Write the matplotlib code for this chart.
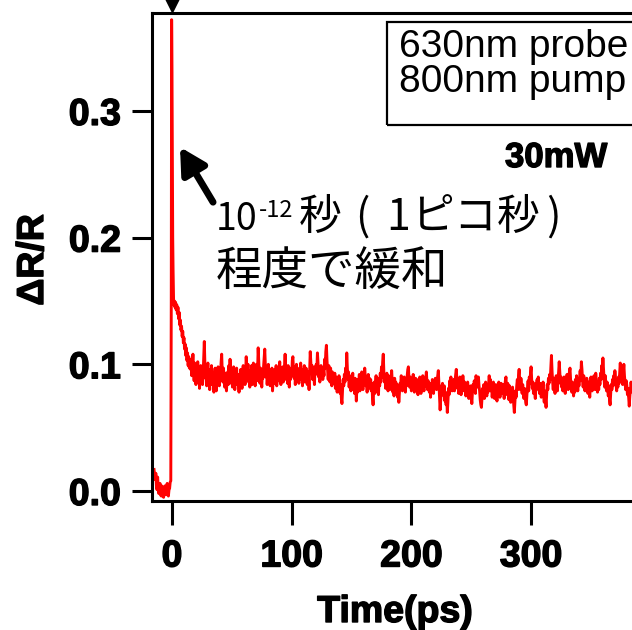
import matplotlib
matplotlib.use('Agg')
import matplotlib.pyplot as plt
import matplotlib.patheffects as pe
from matplotlib.ticker import FormatStrFormatter
from matplotlib.patches import Rectangle
import numpy as np

# ΔR/R 读数, 单位 1e-3

# 时间零点前的基线 (0.5 ps)
pre_t = [-15.0, -14.5, -14.0, -13.5, -13.0, -12.5, -12.0, -11.5, -11.0, -10.5,
         -10.0, -9.5, -9.0, -8.5, -8.0, -7.5, -7.0, -6.5, -6.0, -5.5,
         -5.0, -4.5, -4.0, -3.5, -3.0, -2.5, -2.0, -1.5, -1.0]
pre_milli = [17, 12, 9, 14, 4, 1, 11, 3, -2, 2,
             6, -3, -4, 4, 3, -4, -5, 1, 4, -2,
             -3, 3, 6, -2, -4, 1, 2, 7, 8]

# 峰值与快速衰减
peak_t = [-0.6, -0.3, 0.0, 0.3, 0.6, 0.9, 1.3,
          1.5, 2.0, 2.5, 3.0, 3.5, 4.0, 4.5, 5.0, 5.5, 6.0, 6.5, 7.0, 7.5, 8.0, 8.5,
          9.0, 9.5, 10.0, 10.5, 11.0, 11.5, 12.0, 12.5, 13.0, 13.5, 14.0, 14.5, 15.0, 15.5]
peak_milli = [150, 372, 330, 270, 200, 175, 152,
              147, 150, 145, 149, 143, 147, 140, 145, 136, 141, 131, 135, 127, 130, 122,
              126, 117, 121, 112, 116, 107, 113, 103, 109, 99, 106, 97, 103, 96]

# 16 ps 之后, 每 0.5 ps 一个点 (每行 10 ps)
tail_start = 16.0
tail_step = 0.5
tail_milli = [
    104, 91, 99, 108, 95, 87, 101, 93, 84, 97, 90, 102, 86, 95, 81, 93, 99, 88, 96, 84,
    92, 105, 118, 100, 89, 97, 83, 94, 101, 86, 91, 80, 96, 89, 99, 84, 93, 87, 78, 90,
    97, 85, 79, 92, 86, 98, 89, 83, 95, 88, 101, 108, 94, 86, 97, 90, 82, 93, 85, 79,
    88, 94, 84, 99, 91, 104, 93, 85, 96, 82, 91, 98, 87, 80, 95, 89, 97, 84, 92, 86,
    78, 90, 83, 96, 87, 81, 94, 99, 88, 95, 84, 92, 106, 97, 89, 100, 86, 93, 82, 95,
    88, 99, 84, 94, 101, 89, 96, 83, 92, 100, 87, 95, 113, 102, 91, 85, 97, 90, 82, 94,
    89, 98, 105, 112, 99, 90, 96, 84, 92, 100, 88, 95, 83, 91, 86, 97, 79, 88, 93, 85,
    96, 88, 99, 83, 91, 97, 87, 94, 102, 89, 84, 95, 90, 98, 86, 92, 99, 108, 96, 88,
    93, 85, 99, 90, 82, 94, 88, 97, 91, 103, 106, 95, 89, 98, 84, 93, 100, 87, 95, 90,
    85, 97, 92, 101, 88, 95, 83, 96, 90, 99, 86, 93, 97, 89, 84, 94, 91, 80, 95, 110,
    102, 93, 99, 88, 96, 91, 84, 98, 92, 100, 95, 109, 101, 90, 97, 86, 94, 99, 89, 96,
    88, 95, 91, 104, 97, 110, 115, 103, 95, 88, 99, 92, 86, 97, 90, 83, 94, 88, 92, 85,
    93, 81, 90, 84, 78, 88, 82, 91, 86, 77, 84, 73, 69, 80, 88, 83, 92, 86, 97, 90,
    109, 97, 88, 94, 82, 91, 86, 79, 90, 84, 93, 80, 87, 77, 89, 83, 71, 82, 78, 88,
    85, 92, 79, 87, 83, 94, 88, 80, 91, 86, 97, 90, 83, 88, 78, 86, 92, 81, 89, 84,
    88, 79, 85, 74, 68, 80, 86, 77, 84, 91, 79, 87, 82, 76, 89, 83, 93, 86, 98, 90,
    102, 108, 94, 86, 90, 81, 88, 93, 84, 79, 91, 85, 80, 89, 83, 95, 87, 78, 84, 75,
    89, 82, 86, 78, 84, 74, 80, 70, 77, 85, 83, 91, 86, 79, 88, 82, 90, 84, 78, 87,
    83, 91, 96, 98, 88, 82, 90, 85, 79, 87, 81, 92, 86, 78, 84, 89, 80, 88, 83, 76,
    86, 80, 90, 84, 77, 87, 82, 91, 85, 79, 88, 83, 89, 94, 86, 80, 87, 83, 78, 85,
    74, 84, 80, 88, 83, 77, 86, 81, 89, 84, 80, 87, 91, 95, 85, 75, 64, 72, 83, 78,
    85, 79, 75, 83, 71, 78, 68, 74, 62, 70, 81, 76, 87, 82, 90, 84, 79, 86, 81, 88,
    79, 87, 92, 96, 88, 81, 86, 77, 84, 90, 82, 76, 88, 83, 91, 85, 79, 86, 81, 75,
    84, 78, 86, 80, 73, 81, 76, 83, 74, 69, 78, 84, 80, 87, 83, 77, 91, 85, 88, 82,
    90, 83, 79, 72, 68, 66, 74, 81, 77, 84, 73, 79, 86, 80, 75, 83, 78, 85, 91, 84,
    88, 79, 83, 74, 81, 86, 77, 73, 80, 84, 76, 71, 82, 78, 86, 80, 74, 79, 85, 81,
    77, 84, 80, 73, 82, 87, 90, 81, 76, 85, 79, 72, 83, 77, 70, 79, 74, 82, 76, 68,
    62, 71, 79, 74, 83, 88, 80, 91, 96, 86, 80, 89, 83, 77, 84, 78, 73, 81, 75, 70,
    68, 76, 82, 87, 79, 90, 85, 93, 98, 88, 81, 86, 77, 84, 79, 73, 85, 80, 88, 83,
    90, 82, 77, 85, 80, 74, 83, 78, 86, 75, 70, 79, 73, 66, 76, 84, 80, 89, 85, 92,
    88, 97, 107, 95, 86, 80, 89, 83, 77, 87, 91, 84, 79, 88, 94, 102, 93, 85, 90, 82,
    87, 79, 84, 90, 83, 77, 88, 82, 92, 86, 80, 89, 94, 97, 88, 83, 78, 86, 81, 75,
    84, 78, 88, 82, 91, 85, 79, 87, 83, 89, 95, 87, 102, 96, 88, 82, 91, 84, 79, 86,
    81, 89, 84, 77, 86, 80, 74, 83, 90, 85, 79, 88, 82, 91, 86, 80, 93, 87, 83, 78,
    85, 80, 89, 84, 93, 88, 99, 94, 105, 96, 88, 82, 91, 84, 79, 86, 81, 75, 83, 72,
    68, 77, 84, 80, 88, 83, 91, 86, 95, 89, 84, 79, 88, 82, 90, 85, 93, 101, 92, 86,
    89, 84, 94, 100, 91, 85, 80, 87, 83, 76, 81, 74, 67, 75, 80, 86, 82, 78, 84, 80,
]

x_ticks = [0, 100, 200, 300]
y_ticks = [0.0, 0.1, 0.2, 0.3]
box_lines = ["630nm probe", "800nm pump"]
power_label = "30mW"
note_base = "10"
note_sup = "-12"
note_chars = ["秒", "(", "1", "ピ", "コ", "秒", ")"]
note_line2 = "程度で緩和"

plt.rcParams['font.family'] = ['Liberation Sans', 'DejaVu Sans']
JP = ['Noto Sans CJK JP', 'DejaVu Sans']
# 粗体再加一点描边, 接近原图的字重
HEAVY = [pe.withStroke(linewidth=1.0, foreground='black')]
W, H = 632.0, 630.0


def fx(px):
    return px / W


def fy(py):
    return 1 - py / H


def plot_decay():
    tail_t = tail_start + tail_step * np.arange(len(tail_milli))
    t = np.concatenate([pre_t, peak_t, tail_t])
    dr = np.concatenate([pre_milli, peak_milli, tail_milli]) / 1000.0

    fig = plt.figure(figsize=(6.32, 6.30), dpi=100)
    ax = fig.add_axes([fx(152), fy(501), 1 - fx(152), (501 - 13) / H])

    ax.plot(t, dr, color='#ff0000', linewidth=2.1)
    ax.set_xlim(-16.7, 384.3)
    ax.set_ylim(-0.0079, 0.3773)

    # 坐标轴样式
    for side in ['left', 'bottom', 'top']:
        ax.spines[side].set_linewidth(2.2)
    ax.spines['right'].set_visible(False)
    ax.set_xticks(x_ticks)
    ax.set_yticks(y_ticks)
    ax.yaxis.set_major_formatter(FormatStrFormatter('%.1f'))
    ax.tick_params(axis='x', direction='out', length=17, width=2.2, pad=10, labelsize=27)
    ax.tick_params(axis='y', direction='out', length=14.4, width=2.2, pad=8, labelsize=27)
    for lab in ax.get_xticklabels() + ax.get_yticklabels():
        lab.set_fontweight('bold')
        lab.set_path_effects(HEAVY)

    fig.text(fx(33), fy(260), "ΔR/R", rotation=90, ha='center', va='center',
             fontsize=27, fontweight='bold', path_effects=HEAVY)
    fig.text(fx(395), fy(622), "Time(ps)", ha='center', va='baseline',
             fontsize=27, fontweight='bold', path_effects=HEAVY)

    # 时间零点标记
    ax.plot([0], [0.384], marker='v', color='black', markersize=10, clip_on=False)

    # 右上角说明框
    fig.patches.append(Rectangle((fx(387), fy(125)), 0.5, (125 - 22) / H,
                                 transform=fig.transFigure, fill=False,
                                 edgecolor='black', linewidth=1.6))
    fig.text(fx(399), fy(57), box_lines[0], fontsize=28, va='baseline')
    fig.text(fx(399), fy(92), box_lines[1], fontsize=28, va='baseline')
    fig.text(fx(505), fy(167), power_label, fontsize=25, fontweight='bold',
             va='baseline', path_effects=HEAVY)

    # 箭头和注释
    ax.annotate("", xy=(6.7, 0.2715), xytext=(34.3, 0.228),
                arrowprops=dict(arrowstyle='-|>,head_length=1.1,head_width=0.6',
                                mutation_scale=14, color='black', linewidth=5,
                                shrinkA=0, shrinkB=0))

    fig.text(fx(216), fy(230), note_base, fontsize=27, family=JP, va='baseline')
    fig.text(fx(259), fy(217), note_sup, fontsize=17, family=JP, va='baseline')
    # 第一行字距较紧, 逐字放置
    char_x = [320, 362, 398, 432, 475, 518, 553]
    for ch, cx in zip(note_chars, char_x):
        fig.text(fx(cx), fy(230), ch, fontsize=30.8, family=JP, ha='center', va='baseline')
    fig.text(fx(216), fy(286), note_line2, fontsize=33.5, family=JP, va='baseline')

    fig.savefig('out.png', dpi=100)


if __name__ == "__main__":
    plot_decay()
